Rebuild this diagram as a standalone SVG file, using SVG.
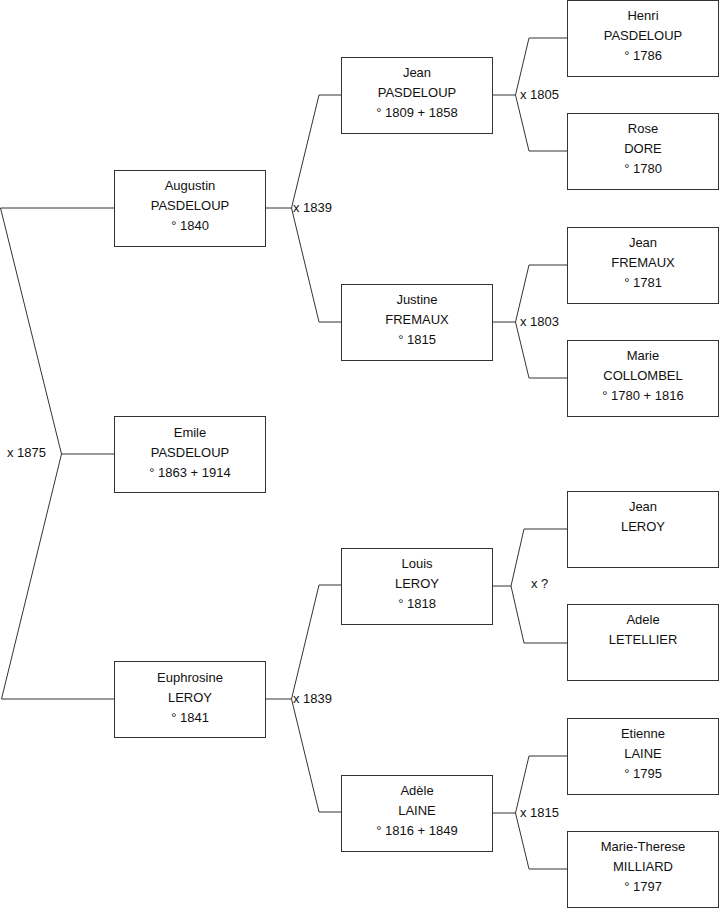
<svg xmlns="http://www.w3.org/2000/svg" width="719" height="908" viewBox="0 0 719 908">
<style>
rect.box{fill:#fff;stroke:#333;stroke-width:1}
.c{fill:none;stroke:#333;stroke-width:1}
text{font-family:"Liberation Sans",Arial,sans-serif;font-size:13px;fill:#111}
.n text{text-anchor:middle}
</style>
<rect width="719" height="908" fill="#fff"/>
<g id="connectors" class="c">
<polyline points="114,208 0.5,208 61.5,454 114,454"/>
<polyline points="61.5,454 1.5,699 114,699"/>
<polyline points="265,208 291.5,208 319,95 341,95"/>
<polyline points="291.5,208 319,322 341,322"/>
<polyline points="265,699 291.5,699 319,585 341,585"/>
<polyline points="291.5,699 319,812 341,812"/>
<polyline points="492,95 515.5,95 529,38 567,38"/>
<polyline points="515.5,95 529,151 567,151"/>
<polyline points="492,322 515.5,322 529,265 567,265"/>
<polyline points="515.5,322 529,378 567,378"/>
<polyline points="492,586 511,586 524,529 567,529"/>
<polyline points="511,586 524,643 567,643"/>
<polyline points="492,813 515.5,813 529,756 567,756"/>
<polyline points="515.5,813 529,869 567,869"/>
</g>
<g id="labels">
<text x="7" y="457">x 1875</text>
<text x="293" y="212">x 1839</text>
<text x="293" y="703">x 1839</text>
<text x="520" y="99">x 1805</text>
<text x="520" y="326">x 1803</text>
<text x="531" y="588">x ?</text>
<text x="520" y="817">x 1815</text>
</g>
<g id="augustin" class="n"><rect class="box" x="114.5" y="170.5" width="151" height="76"/><text x="190" y="190">Augustin</text><text x="190" y="210">PASDELOUP</text><text x="190" y="230">° 1840</text></g>
<g id="emile" class="n"><rect class="box" x="114.5" y="416.5" width="151" height="76"/><text x="190" y="437">Emile</text><text x="190" y="457">PASDELOUP</text><text x="190" y="477">° 1863 + 1914</text></g>
<g id="euphrosine" class="n"><rect class="box" x="114.5" y="661.5" width="151" height="76"/><text x="190" y="682">Euphrosine</text><text x="190" y="702">LEROY</text><text x="190" y="722">° 1841</text></g>
<g id="jean-pasdeloup" class="n"><rect class="box" x="341.5" y="57.5" width="151" height="76"/><text x="417" y="77">Jean</text><text x="417" y="97">PASDELOUP</text><text x="417" y="117">° 1809 + 1858</text></g>
<g id="justine" class="n"><rect class="box" x="341.5" y="284.5" width="151" height="76"/><text x="417" y="304">Justine</text><text x="417" y="324">FREMAUX</text><text x="417" y="344">° 1815</text></g>
<g id="louis" class="n"><rect class="box" x="341.5" y="548.5" width="151" height="76"/><text x="417" y="568">Louis</text><text x="417" y="588">LEROY</text><text x="417" y="608">° 1818</text></g>
<g id="adele-laine" class="n"><rect class="box" x="341.5" y="775.5" width="151" height="76"/><text x="417" y="795">Adèle</text><text x="417" y="815">LAINE</text><text x="417" y="835">° 1816 + 1849</text></g>
<g id="henri" class="n"><rect class="box" x="567.5" y="0.5" width="151" height="76"/><text x="643" y="20">Henri</text><text x="643" y="40">PASDELOUP</text><text x="643" y="60">° 1786</text></g>
<g id="rose" class="n"><rect class="box" x="567.5" y="113.5" width="151" height="76"/><text x="643" y="133">Rose</text><text x="643" y="153">DORE</text><text x="643" y="173">° 1780</text></g>
<g id="jean-fremaux" class="n"><rect class="box" x="567.5" y="227.5" width="151" height="76"/><text x="643" y="247">Jean</text><text x="643" y="267">FREMAUX</text><text x="643" y="287">° 1781</text></g>
<g id="marie" class="n"><rect class="box" x="567.5" y="340.5" width="151" height="76"/><text x="643" y="360">Marie</text><text x="643" y="380">COLLOMBEL</text><text x="643" y="400">° 1780 + 1816</text></g>
<g id="jean-leroy" class="n"><rect class="box" x="567.5" y="491.5" width="151" height="76"/><text x="643" y="511">Jean</text><text x="643" y="531">LEROY</text></g>
<g id="adele-letellier" class="n"><rect class="box" x="567.5" y="604.5" width="151" height="76"/><text x="643" y="624">Adele</text><text x="643" y="644">LETELLIER</text></g>
<g id="etienne" class="n"><rect class="box" x="567.5" y="718.5" width="151" height="76"/><text x="643" y="738">Etienne</text><text x="643" y="758">LAINE</text><text x="643" y="778">° 1795</text></g>
<g id="marie-therese" class="n"><rect class="box" x="567.5" y="831.5" width="151" height="76"/><text x="643" y="851">Marie-Therese</text><text x="643" y="871">MILLIARD</text><text x="643" y="891">° 1797</text></g>
</svg>
